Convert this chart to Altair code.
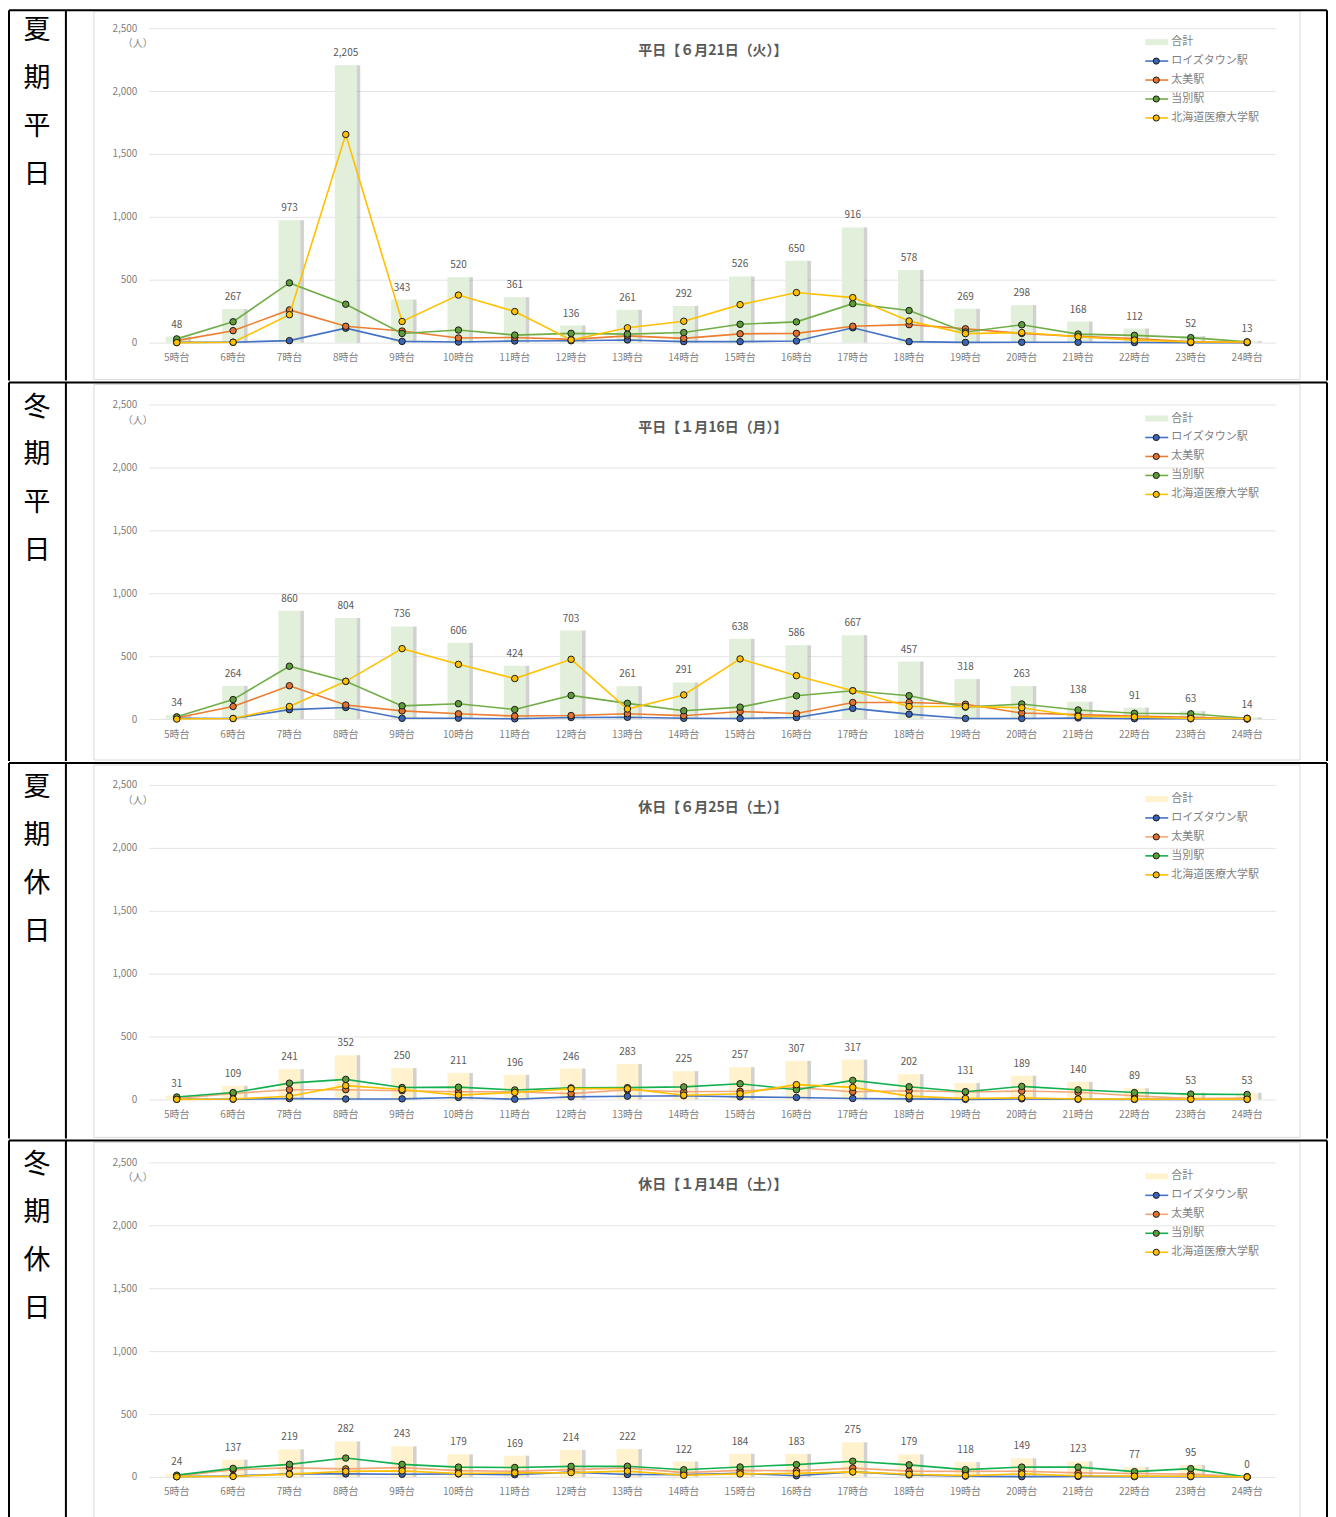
import altair as alt
import pandas as pd

FONT = "Noto Sans CJK JP"

hours = ["5時台", "6時台", "7時台", "8時台", "9時台", "10時台", "11時台", "12時台",
         "13時台", "14時台", "15時台", "16時台", "17時台", "18時台", "19時台", "20時台",
         "21時台", "22時台", "23時台", "24時台"]
stations = ["ロイズタウン駅", "太美駅", "当別駅", "北海道医療大学駅"]
total_name = "合計"
y_ticks = [0, 500, 1000, 1500, 2000, 2500]

row_labels = ["夏\n期\n平\n日", "冬\n期\n平\n日", "夏\n期\n休\n日", "冬\n期\n休\n日"]
titles = ["平日【６月21日（火）】", "平日【１月16日（月）】", "休日【６月25日（土）】", "休日【１月14日（土）】"]

# 夏期平日
sw_total = [48, 267, 973, 2205, 343, 520, 361, 136, 261, 292, 526, 650, 916, 578, 269, 298, 168, 112, 52, 13]
sw_blue = [2, 3, 16, 115, 10, 5, 13, 15, 21, 8, 8, 13, 118, 8, 2, 3, 3, 1, 0, 0]
sw_orange = [16, 95, 260, 130, 92, 37, 41, 26, 54, 34, 70, 74, 130, 143, 110, 73, 50, 33, 7, 2]
sw_green = [30, 166, 475, 305, 73, 100, 60, 74, 68, 80, 146, 165, 310, 255, 85, 142, 68, 58, 40, 6]
sw_yellow = [0, 3, 222, 1655, 168, 378, 247, 21, 118, 170, 302, 398, 358, 172, 72, 80, 47, 20, 5, 5]

# 冬期平日
ww_total = [34, 264, 860, 804, 736, 606, 424, 703, 261, 291, 638, 586, 667, 457, 318, 263, 138, 91, 63, 14]
ww_blue = [6, 4, 75, 92, 6, 7, 2, 12, 14, 6, 5, 12, 85, 39, 5, 5, 9, 3, 2, 0]
ww_orange = [10, 100, 265, 112, 65, 42, 24, 28, 42, 27, 60, 44, 132, 132, 118, 48, 35, 25, 14, 3]
ww_green = [18, 155, 420, 300, 105, 122, 76, 188, 125, 66, 95, 185, 225, 186, 95, 120, 72, 46, 42, 6]
ww_yellow = [0, 5, 100, 300, 560, 435, 322, 475, 80, 192, 478, 345, 225, 100, 100, 90, 22, 17, 5, 5]

# 夏期休日
sh_total = [31, 109, 241, 352, 250, 211, 196, 246, 283, 225, 257, 307, 317, 202, 131, 189, 140, 89, 53, 53]
sh_blue = [2, 2, 7, 4, 5, 16, 2, 21, 26, 30, 21, 16, 8, 5, 1, 5, 2, 1, 1, 0]
sh_orange = [8, 48, 78, 78, 70, 62, 62, 47, 77, 61, 65, 95, 61, 69, 60, 67, 57, 30, 7, 11]
sh_green = [20, 55, 130, 160, 95, 98, 76, 92, 94, 100, 125, 78, 152, 101, 62, 104, 77, 55, 43, 40]
sh_yellow = [1, 4, 26, 110, 80, 35, 56, 86, 86, 34, 46, 118, 96, 27, 8, 13, 4, 3, 2, 2]

# 冬期休日
wh_total = [24, 137, 219, 282, 243, 179, 169, 214, 222, 122, 184, 183, 275, 179, 118, 149, 123, 77, 95, 0]
wh_blue = [2, 7, 25, 24, 21, 24, 18, 38, 19, 18, 29, 9, 40, 16, 6, 2, 4, 2, 2, 0]
wh_orange = [6, 58, 72, 64, 74, 50, 44, 58, 72, 34, 52, 48, 70, 46, 44, 45, 32, 27, 22, 0]
wh_green = [14, 68, 100, 150, 100, 78, 75, 84, 85, 57, 79, 98, 125, 96, 58, 78, 78, 42, 66, 0]
wh_yellow = [2, 4, 22, 44, 48, 27, 32, 34, 46, 13, 24, 28, 40, 21, 10, 24, 9, 6, 5, 0]

panels = [
    (sw_total, [sw_blue, sw_orange, sw_green, sw_yellow]),
    (ww_total, [ww_blue, ww_orange, ww_green, ww_yellow]),
    (sh_total, [sh_blue, sh_orange, sh_green, sh_yellow]),
    (wh_total, [wh_blue, wh_orange, wh_green, wh_yellow]),
]

weekday_style = {
    "bar": "#e2efda",
    "line": ["#4472c4", "#ed7d31", "#70ad47", "#ffc000"],
    "marker": ["#3c64b4", "#e07332", "#5e9c3a", "#ffc000"],
}
holiday_style = {
    "bar": "#fff2cc",
    "line": ["#4472c4", "#f4a878", "#12b050", "#ffc000"],
    "marker": ["#3c64b4", "#e07332", "#5e9c3a", "#ffc000"],
}
styles = [weekday_style, weekday_style, holiday_style, holiday_style]

W = 1322
heights = [373, 381, 378, 381]
tops = [-4, 0, 0, 0]
X0, X1 = 140.8, 1269.2
GRAY = "#7f7f7f"
DARK = "#595959"


def one():
    return pd.DataFrame({"a": [0]})


def make_panel(i):
    h = heights[i]
    top = tops[i]
    y0 = top + 338
    ytop = top + 23
    total, series = panels[i]
    st = styles[i]

    x_enc = alt.X(
        "hour:N", sort=hours,
        scale=alt.Scale(domain=hours, range=[X0, X1], paddingInner=0, paddingOuter=0),
        axis=alt.Axis(title=None, orient="bottom", offset=y0 - h, domain=False, ticks=False,
                      labelPadding=10, labelFont=FONT, labelFontSize=10, labelColor=GRAY,
                      labelAngle=0, grid=False),
    )
    y_enc = alt.Y(
        "val:Q",
        scale=alt.Scale(domain=[0, 2500], range=[y0, ytop], nice=False, zero=True),
        axis=alt.Axis(title=None, values=y_ticks, format=",.0f", offset=-131, domain=False,
                      ticks=False, labelPadding=2, labelFont=FONT, labelFontSize=10,
                      labelColor=GRAY, gridColor="#e4e4e4", gridWidth=1),
    )

    bdf = pd.DataFrame({"hour": hours, "val": total})
    layers = []
    # frame of the Excel chart
    layers.append(alt.Chart(one()).mark_rect(fillOpacity=0, stroke="#d9d9d9", strokeWidth=1).encode(
        x=alt.value(86), x2=alt.value(1294), y=alt.value(max(top + 3, 2)), y2=alt.value(h - 2)))
    shadow = alt.Chart(bdf).mark_bar(width=4, xOffset=12.5, color="#9a9a9a", opacity=0.45).encode(
        x=x_enc, y=y_enc)
    bars = alt.Chart(bdf).mark_bar(width=22, color=st["bar"]).encode(x=x_enc, y=y_enc)
    labels = alt.Chart(bdf).mark_text(dy=-12, font=FONT, fontSize=10, color=DARK).encode(
        x=x_enc, y=y_enc, text=alt.Text("val:Q", format=","))
    layers += [shadow, bars, labels]

    for k, name in enumerate(stations):
        sdf = pd.DataFrame({"hour": hours, "val": series[k], "station": name})
        layers.append(alt.Chart(sdf).mark_line(color=st["line"][k], strokeWidth=1.6).encode(
            x=x_enc, y=y_enc))
        layers.append(alt.Chart(sdf).mark_point(filled=True, shape="circle", size=42,
                                                fill=st["marker"][k], stroke="#1a1a1a",
                                                strokeWidth=1, opacity=1).encode(x=x_enc, y=y_enc))

    # title and unit
    layers.append(alt.Chart(one()).mark_text(text=titles[i], font=FONT, fontSize=14,
                                             fontWeight="bold", color=DARK).encode(
        x=alt.value(706), y=alt.value(top + 46)))
    layers.append(alt.Chart(one()).mark_text(text="（人）", font=FONT, fontSize=10, color=GRAY).encode(
        x=alt.value(130), y=alt.value(top + 39)))

    # legend
    lx0, lx1, lmx, ltx = 1139, 1162, 1150, 1165
    ly = top + 37
    layers.append(alt.Chart(one()).mark_rect(color=st["bar"]).encode(
        x=alt.value(lx0), x2=alt.value(lx1), y=alt.value(ly - 3), y2=alt.value(ly + 3)))
    layers.append(alt.Chart(one()).mark_text(text=total_name, align="left", font=FONT, fontSize=11,
                                             color=GRAY).encode(x=alt.value(ltx), y=alt.value(ly)))
    for k, name in enumerate(stations):
        yy = ly + 19 * (k + 1)
        layers.append(alt.Chart(one()).mark_rule(color=st["line"][k], strokeWidth=1.6).encode(
            x=alt.value(lx0), x2=alt.value(lx1), y=alt.value(yy)))
        layers.append(alt.Chart(one()).mark_point(filled=True, shape="circle", size=38,
                                                  fill=st["marker"][k], stroke="#1a1a1a",
                                                  strokeWidth=1, opacity=1).encode(
            x=alt.value(lmx), y=alt.value(yy)))
        layers.append(alt.Chart(one()).mark_text(text=name, align="left", font=FONT, fontSize=11,
                                                 color=GRAY).encode(x=alt.value(ltx), y=alt.value(yy)))

    # table borders and row label (kept inside the view so the layout does not grow)
    layers.append(alt.Chart(one()).mark_rule(color="black", strokeWidth=2).encode(
        x=alt.value(1), x2=alt.value(W - 1), y=alt.value(1)))
    for xv in [1, 58, W - 1]:
        layers.append(alt.Chart(one()).mark_rule(color="black", strokeWidth=2).encode(
            x=alt.value(xv), y=alt.value(1), y2=alt.value(h - 1)))
    layers.append(alt.Chart(one()).mark_text(text=row_labels[i], lineBreak="\n", lineHeight=48,
                                             baseline="top", font=FONT, fontSize=27,
                                             color="black").encode(
        x=alt.value(29), y=alt.value(top + 13)))

    return alt.layer(*layers).properties(width=W, height=h)


chart = alt.vconcat(*[make_panel(i) for i in range(4)], spacing=0).properties(
    padding=0).configure_view(strokeWidth=0)

chart.save("out.html", embed_options={"renderer": "svg", "actions": False})
